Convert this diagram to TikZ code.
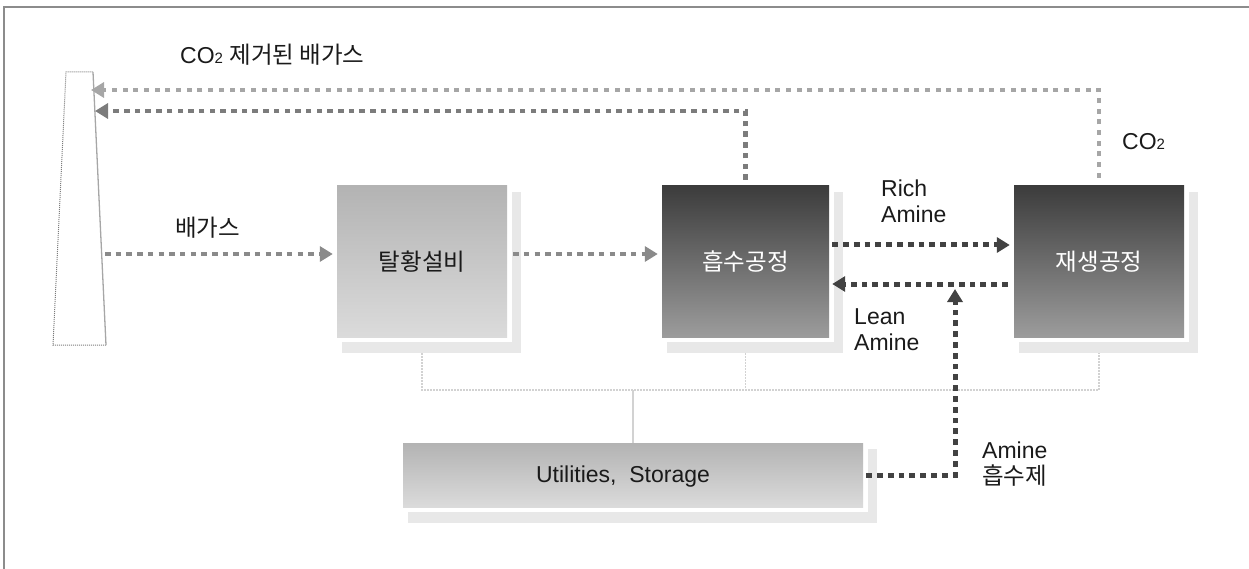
\documentclass[tikz,border=0pt]{standalone}
\usepackage{fontspec}
\setmainfont{Liberation Sans}
\newfontfamily\korfont{Noto Sans CJK KR}
\usetikzlibrary{arrows.meta,backgrounds,shadings}
\newcommand\ko[1]{{\korfont\fontsize{23.5}{25}\selectfont #1}}
\newcommand\cotwo{CO{\fontsize{15}{15}\selectfont 2}}
\definecolor{boxlt}{HTML}{B3B3B3}
\definecolor{boxlb}{HTML}{DBDBDB}
\definecolor{boxdt}{HTML}{3C3C3C}
\definecolor{boxdb}{HTML}{9C9C9C}
\definecolor{shadowc}{HTML}{E8E8E8}
\definecolor{bordc}{HTML}{8C8C8C}
\definecolor{txtc}{HTML}{1A1A1A}
\definecolor{fdark}{HTML}{424242}
\definecolor{fmid}{HTML}{8A8A8A}
\definecolor{fgray}{HTML}{7C7C7C}
\definecolor{flight}{HTML}{A6A6A6}
\definecolor{busc}{HTML}{D2D2D2}
\begin{document}
\begin{tikzpicture}[x=1pt,y=-1pt,
  box/.style={rectangle, inner sep=0pt, draw=none, font=\fontsize{23}{26}\selectfont},
  lightbox/.style={box, top color=boxlt, bottom color=boxlb, text=txtc},
  darkbox/.style={box, top color=boxdt, bottom color=boxdb, text=white},
  lbl/.style={inner sep=0pt, text=txtc, align=left, font=\fontsize{23}{26}\selectfont},
  tipA/.style={-{Triangle[length=13pt,width=15pt]}},
  flowdark/.style={tipA, draw=fdark, line width=5pt, dash pattern=on 5.8pt off 5pt},
  flowmid/.style={tipA, draw=fmid, line width=4.5pt, dash pattern=on 5.5pt off 5.2pt},
  flowgray/.style={tipA, draw=fgray, line width=4.5pt, dash pattern=on 5.5pt off 5.2pt},
  flowlight/.style={tipA, draw=flight, line width=4pt, dash pattern=on 5pt off 5.7pt},
  busline/.style={draw=busc, line width=1.5pt, dash pattern=on 1.5pt off 1.5pt},
  chimdot/.style={draw=fgray, line width=1pt, dash pattern=on 1pt off 1pt},
  chimsolid/.style={draw=flight, line width=1.3pt}
]
\useasboundingbox (0,0) rectangle (1249,569);
\draw[bordc, line width=1.5pt] (4,569) -- (4,7) -- (1249,7);

% chimney
\draw[chimdot] (106,345) -- (53,345) -- (66,72) -- (93,72);
\draw[chimsolid] (93,72) -- (106,345);
\coordinate (chimA) at (91,90);
\coordinate (chimB) at (95,111);
\coordinate (chimC) at (105,254);

% boxes
\node[lightbox, minimum width=170pt, minimum height=151pt] (desulf) at (422,261.5) {\ko{탈황설비}};
\node[darkbox, minimum width=167pt, minimum height=151pt] (absorb) at (745.5,261.5) {\ko{흡수공정}};
\node[darkbox, minimum width=170pt, minimum height=151pt] (regen) at (1099,261.5) {\ko{재생공정}};
\node[lightbox, minimum width=460pt, minimum height=64pt,
  label={[lbl, xshift=-10pt, yshift=-2pt]center:Utilities,\ \ Storage}] (util) at (633,475) {};

\begin{scope}[on background layer]
\foreach \n in {desulf,absorb,regen,util}{
  \fill[shadowc] ([shift={(5,6)}]\n.north west) rectangle ([shift={(14,16)}]\n.south east);
  \fill[white] (\n.north west) rectangle ([shift={(5,5)}]\n.south east);
}
\end{scope}

% utility bus
\coordinate (bus) at (633,390);
\draw[busline] ([yshift=-16pt]desulf.south) -- (desulf.south |- bus) -- (regen.south |- bus) -- ([yshift=-16pt]regen.south);
\draw[busline] ([yshift=-16pt]absorb.south) -- (absorb.south |- bus);
\draw[draw=busc, line width=1.5pt] (bus) -- (util.north);

% flows
\draw[flowmid, shorten >=4pt] (chimC) -- ([yshift=7.5pt]desulf.west);
\draw[flowmid, shorten <=6pt, shorten >=4pt] ([yshift=7.5pt]desulf.east) -- ([yshift=7.5pt]absorb.west);
\draw[flowdark, shorten <=3pt, shorten >=4pt] ([yshift=16.5pt]absorb.east) -- ([yshift=16.5pt]regen.west);
\draw[flowdark, shorten <=6pt, shorten >=3pt] ([yshift=-22.5pt]regen.west) -- ([yshift=-22.5pt]absorb.east);
\coordinate (amj) at (955,289);
\draw[flowdark, shorten <=3pt] (util.east) -| (amj);
\draw[flowgray, shorten <=6pt] (absorb.north) |- (chimB);
\draw[flowlight, shorten <=8pt] (regen.north) |- (chimA);

% labels
\node[lbl, anchor=west] (lco2gas) at (180,55) {\cotwo\ \ko{제거된 배가스}};
\node[lbl, anchor=west] (lflue) at (175,228) {\ko{배가스}};
\node[lbl, anchor=west] (lco2) at (1122,142) {\cotwo};
\node[lbl, anchor=west] (lrich) at (881,201) {Rich\\Amine};
\node[lbl, anchor=west] (llean) at (854,329.5) {Lean\\Amine};
\node[lbl, anchor=west] (lamine) at (982,464) {Amine\\\ko{흡수제}};
\end{tikzpicture}
\end{document}
